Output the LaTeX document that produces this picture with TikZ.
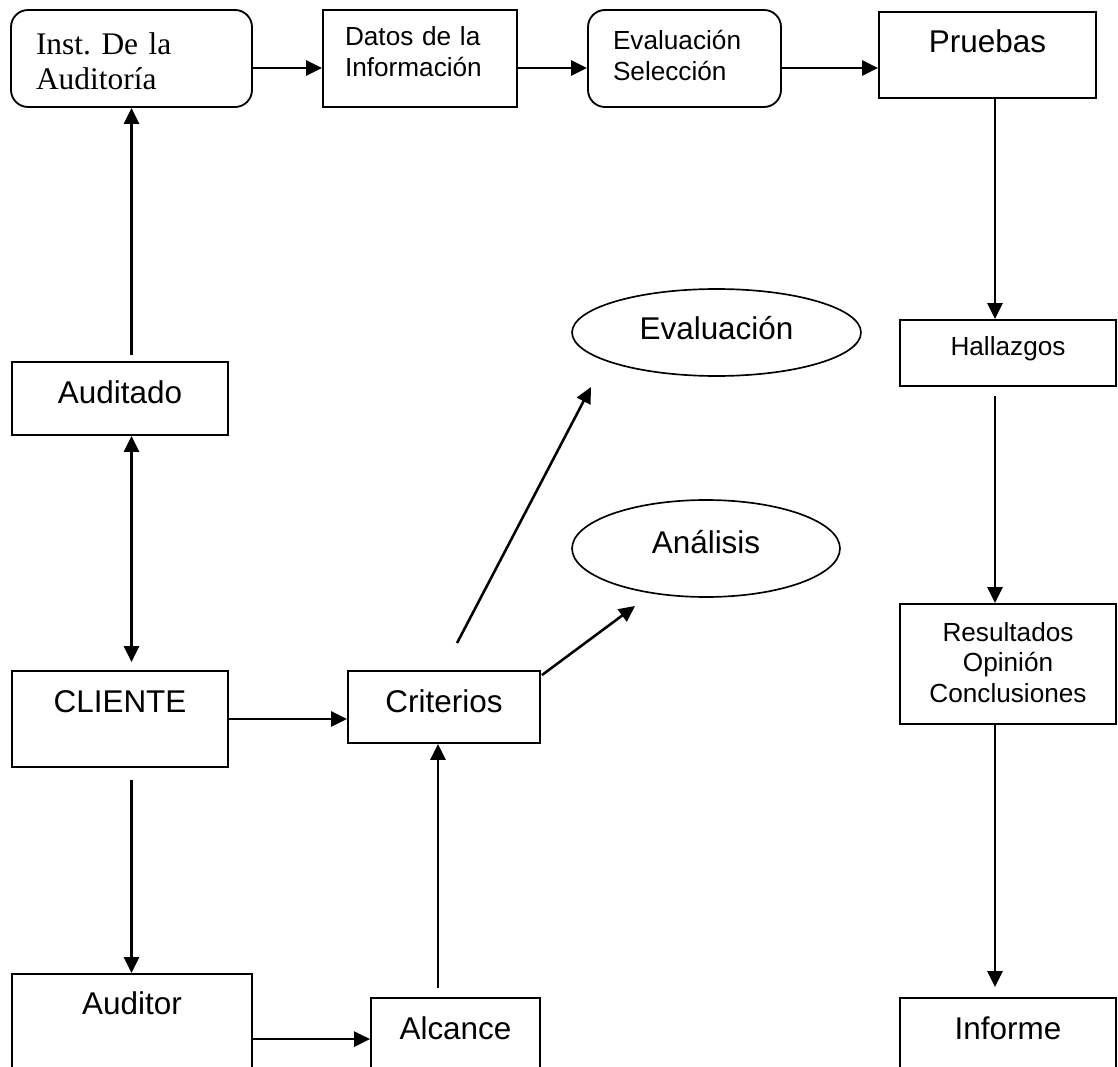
\documentclass[tikz,border=0pt]{standalone}
\usepackage{fontspec}
\setmainfont{Liberation Sans}
\newfontfamily\serifface{Liberation Serif}
\usetikzlibrary{arrows.meta}
\usetikzlibrary{shapes.geometric}

\newcommand{\bigtxt}{\fontsize{17.9}{20.6}\selectfont}
\newcommand{\smalltxt}{\fontsize{14.9}{17.4}\selectfont}

\begin{document}
\begin{tikzpicture}[x=0.02cm, y=-0.02cm,
    box/.style={draw, rectangle, line width=1.05pt, inner sep=0pt, font=\bigtxt},
    rbox/.style={box, rounded corners=0.34cm},
    oval/.style={draw, ellipse, line width=0.95pt, inner sep=0pt, font=\bigtxt},
    arr/.style={line width=1.45pt, -{Triangle[length=0.32cm, width=0.3cm]}},
    arrs/.style={arr, {Triangle[length=0.32cm, width=0.3cm]}-{Triangle[length=0.32cm, width=0.3cm]}}]
    \clip (0,0) rectangle (1118,1067);

    % top row
    \node[rbox, font=\serifface\fontsize{17.9}{19.8}\selectfont, align=left, inner xsep=0.5cm, text width=3.82cm, text height=0.9cm, text depth=1.04cm] (inst) at (131.5,58.5) {Inst.\ De la\\Auditoría};
    \node[box, font=\smalltxt, align=left, inner xsep=0.44cm, text width=3.0cm, text height=0.72cm, text depth=1.22cm] (datos) at (420,58.5) {Datos de la\\Información};
    \node[rbox, font=\smalltxt, align=left, inner xsep=0.5cm, text width=2.86cm, text height=0.8cm, text depth=1.14cm] (evsel) at (684.5,58.5) {Evaluación\\Selección};
    \node[box, minimum width=4.34cm, text height=0.82cm, text depth=0.9cm] (pruebas) at (987.5,55) {Pruebas};
    \draw[arr] ([yshift=-0.19cm]inst.east) -- ([yshift=-0.19cm]datos.west);
    \draw[arr] ([yshift=-0.19cm]datos.east) -- ([yshift=-0.19cm]evsel.west);
    \draw[arr] ([yshift=-0.19cm]evsel.east) -- ([yshift=-0.19cm]evsel.east -| pruebas.west);

    % right column
    \node[box, font=\smalltxt, minimum width=4.32cm, text height=0.7cm, text depth=0.62cm] (hallaz) at (1008,353) {Hallazgos};
    \node[box, font=\smalltxt, align=center, text width=4.32cm, text height=0.74cm, text depth=1.66cm] (result) at (1008,664) {Resultados\\Opinión\\Conclusiones};
    \node[box, minimum width=4.32cm, text height=0.82cm, text depth=1.22cm] (informe) at (1008,1049) {Informe};
    \draw[arr] ([xshift=0.15cm]pruebas.south) -- ([xshift=0.15cm]pruebas.south |- hallaz.north);
    \draw[arr, shorten <=0.18cm] ([xshift=-0.26cm]hallaz.south) -- ([xshift=-0.26cm]result.north);
    \draw[arr, shorten >=0.2cm] ([xshift=-0.26cm]result.south) -- ([xshift=-0.26cm]informe.north);

    % left column
    \node[box, minimum width=4.32cm, text height=0.82cm, text depth=0.64cm] (auditado) at (120,398.5) {Auditado};
    \node[box, minimum width=4.32cm, text height=0.82cm, text depth=1.1cm] (cliente) at (120,719) {CLIENTE};
    \node[box, minimum width=4.8cm, text height=0.8cm, text depth=1.72cm] (auditor) at (132,1037) {Auditor};
    \draw[arr, shorten <=0.12cm] (auditado.north -| inst.south) -- (inst.south);
    \draw[arrs, shorten >=0.16cm] (auditado.south -| inst.south) -- (cliente.north -| inst.south);
    \draw[arr, shorten <=0.24cm] (cliente.south -| inst.south) -- (auditor.north -| inst.south);

    % middle
    \node[box, minimum width=3.84cm, text height=0.82cm, text depth=0.62cm] (crit) at (444,707) {Criterios};
    \node[box, minimum width=3.38cm, text height=0.82cm, text depth=1.22cm] (alcance) at (455.5,1049) {Alcance};
    \node[oval, minimum width=5.78cm, minimum height=1.74cm, text height=0.5cm, text depth=0.2cm] (evalu) at (716.5,332.5) {Evaluación};
    \node[oval, minimum width=5.36cm, minimum height=1.94cm, text height=0.4cm, text depth=0.22cm] (analisis) at (706,548.5) {Análisis};
    \draw[arr] (cliente.east) -- (cliente.east -| crit.west);
    \draw[arr] ([yshift=-1.32cm]auditor.north east) -- ([yshift=-1.32cm]auditor.north east -| alcance.west);
    \draw[arr, shorten <=0.18cm] ([xshift=-0.12cm]crit.south |- alcance.north) -- ([xshift=-0.12cm]crit.south);
    \draw[arr] ([shift={(13,-27)}]crit.north) -- ([shift={(-125.5,54.5)}]evalu.center);
    \draw[arr] ([shift={(1,5)}]crit.north east) -- ([shift={(-71,57.5)}]analisis.center);

\end{tikzpicture}
\end{document}
